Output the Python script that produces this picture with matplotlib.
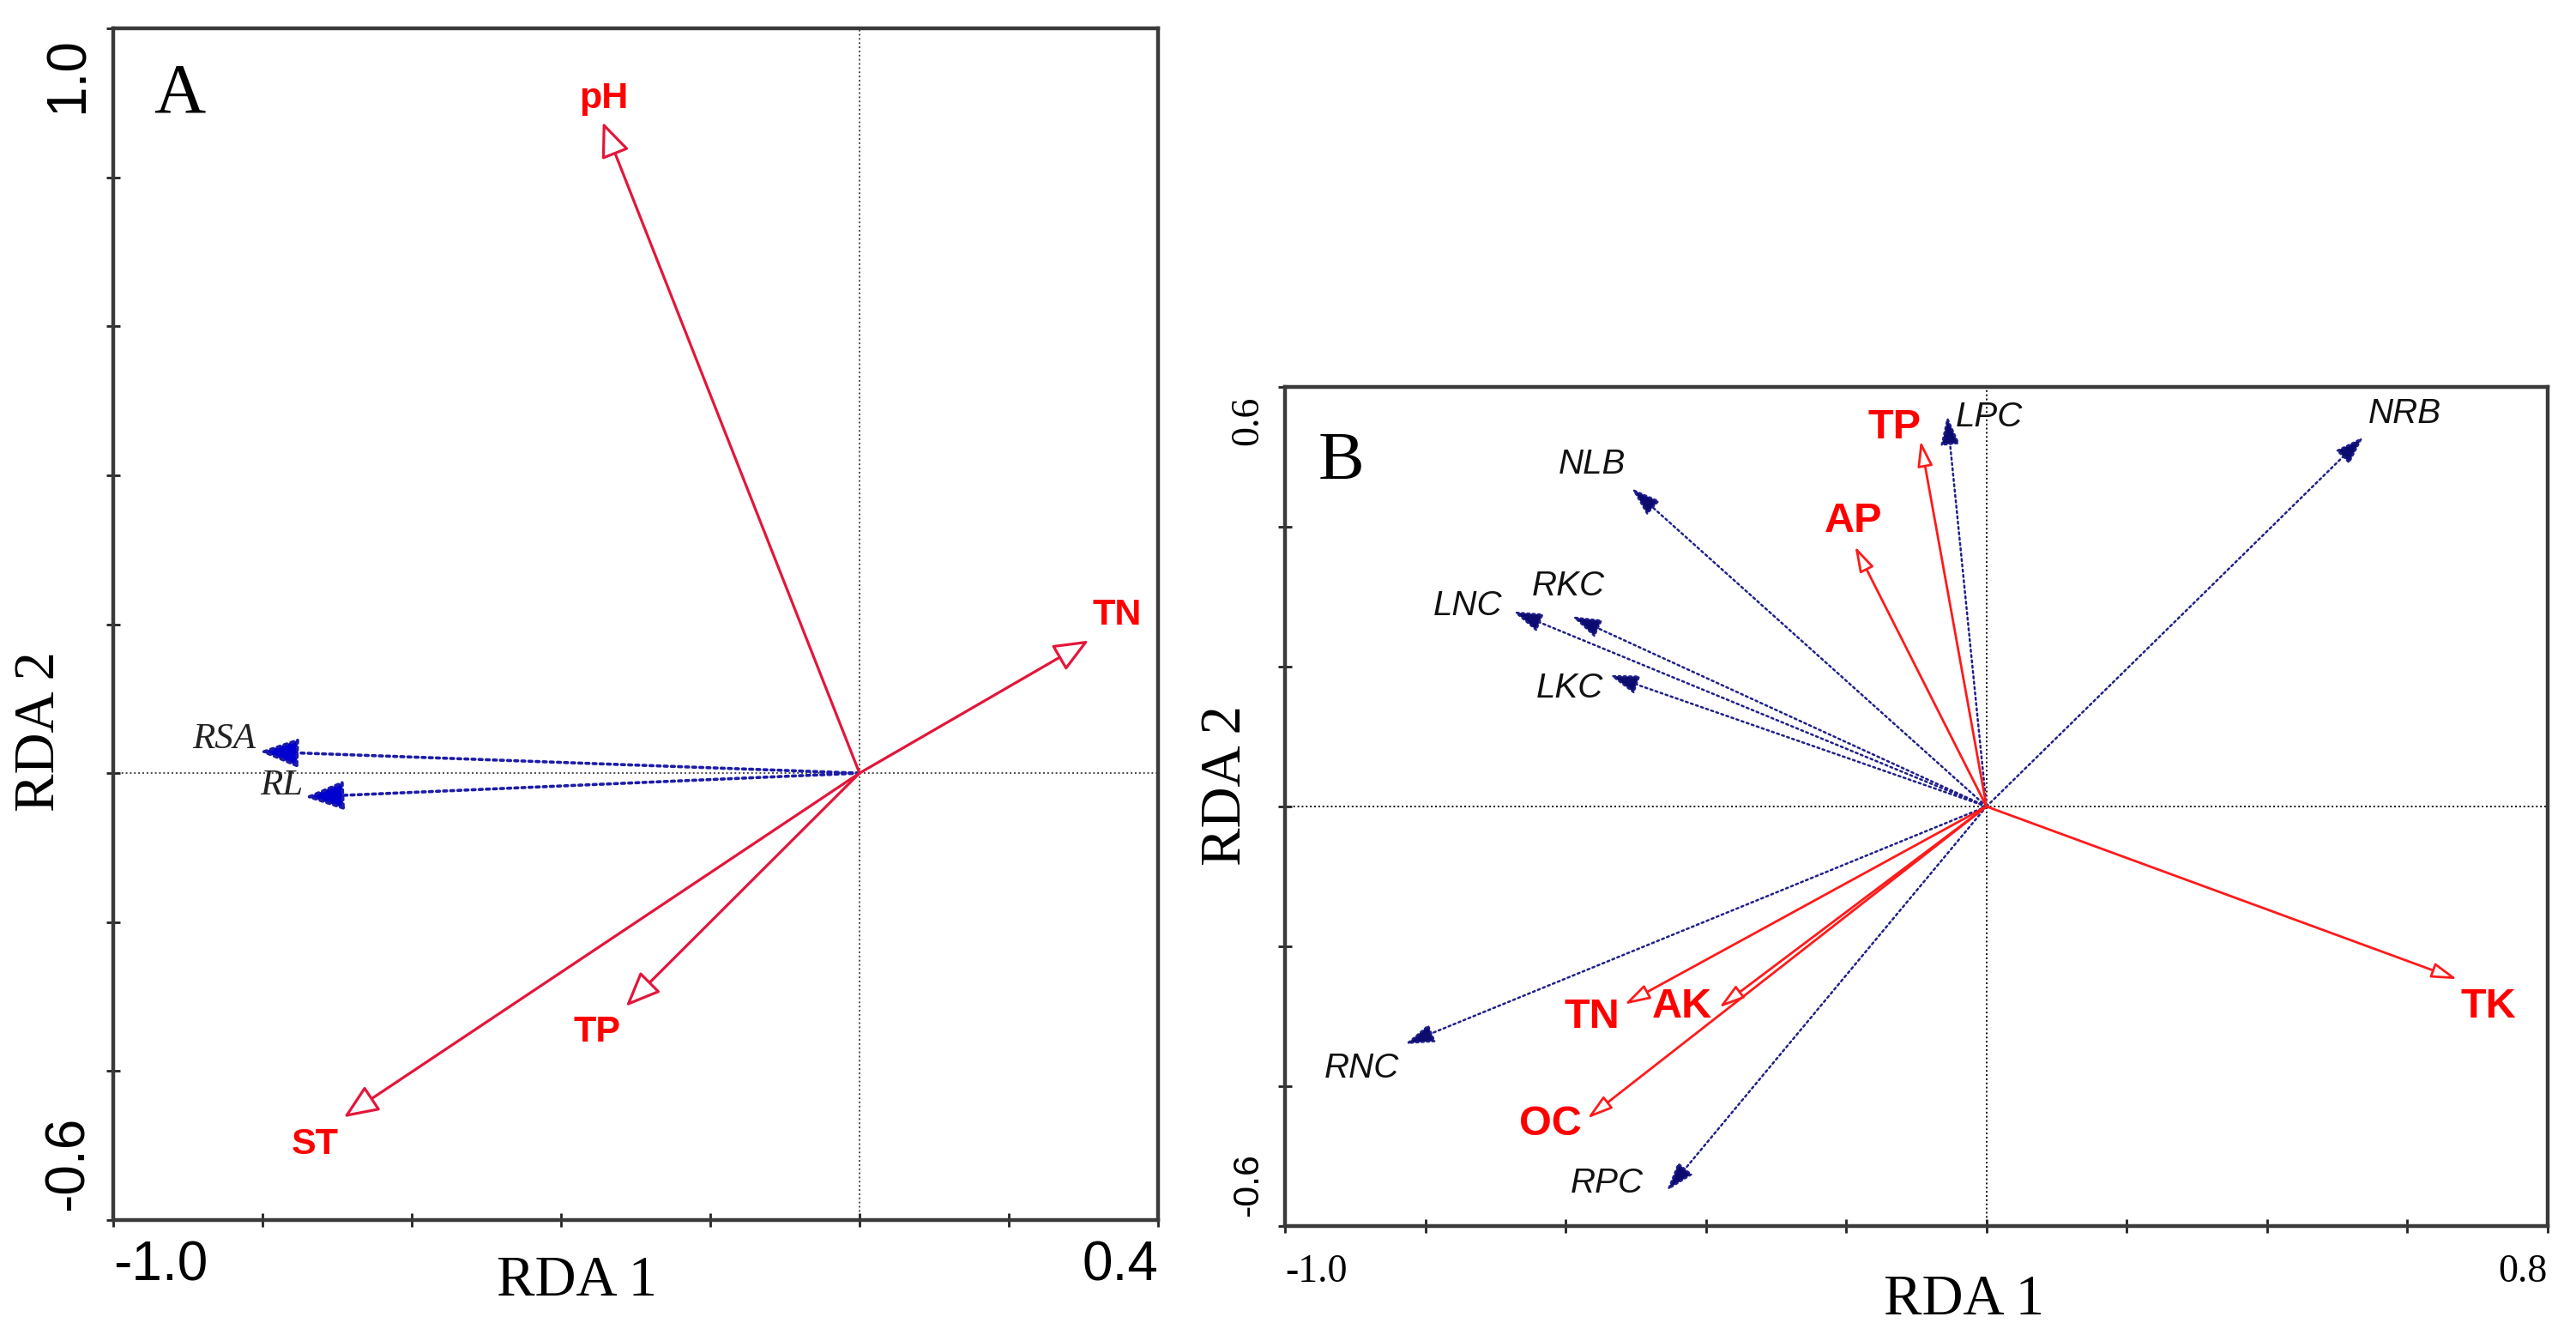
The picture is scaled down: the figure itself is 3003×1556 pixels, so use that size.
import numpy as np
import matplotlib
matplotlib.use("Agg")
import matplotlib.pyplot as plt
from matplotlib.patches import FancyArrowPatch
from matplotlib.patches import ArrowStyle

# ---------------- data ----------------
# Panel A: environmental factors (red) and root traits (blue)
A_env_names = ["pH", "TN", "TP", "ST"]
A_env_x = [-0.344, 0.307, -0.313, -0.691]
A_env_y = [0.874, 0.178, -0.313, -0.462]
A_sp_names = ["RSA", "RL"]
A_sp_x = [-0.804, -0.743]
A_sp_y = [0.029, -0.032]

# Panel B
B_env_names = ["TP", "AP", "TK", "TN", "AK", "OC"]
B_env_x = [-0.094, -0.1875, 0.671, -0.516, -0.381, -0.569]
B_env_y = [0.523, 0.372, -0.247, -0.283, -0.2875, -0.446]
B_sp_names = ["LPC", "NRB", "NLB", "LNC", "RKC", "LKC", "RNC", "RPC"]
B_sp_x = [-0.056, 0.5375, -0.506, -0.675, -0.591, -0.5375, -0.829, -0.456]
B_sp_y = [0.559, 0.529, 0.455, 0.279, 0.272, 0.188, -0.340, -0.550]

A_xlim = (-1.0, 0.4)
A_ylim = (-0.6, 1.0)
B_xlim = (-1.0, 0.8)
B_ylim = (-0.6, 0.6)

# ---------------- layout (label offsets in pixels) ----------------
A_env_off = {"pH": (1, 27, "center"), "TN": (33, 30, "center"),
             "TP": (-34, -30, "center"), "ST": (-34, -32, "center")}
A_sp_off = {"RSA": (-4, 14, "right"), "RL": (-2, 13, "right")}
B_env_off = {"TP": (-30, 15, "center"), "AP": (-2, 29, "center"),
             "TK": (36, -32, "center"), "TN": (-38, -15, "center"),
             "AK": (-43, 1, "center"), "OC": (-43, -7, "center")}
B_sp_off = {"LPC": (10, -2, "left"), "NRB": (48, 27, "center"),
            "NLB": (-46, 28, "center"), "LNC": (-53, 7, "center"),
            "RKC": (-4, 35, "center"), "LKC": (-46, -15, "center"),
            "RNC": (-50, -28, "center"), "RPC": (-70, 9, "center")}

SANS = ["Liberation Sans", "DejaVu Sans"]
SERIF = ["Liberation Serif", "DejaVu Serif"]

W, H = 3003, 1556
fig = plt.figure(figsize=(W / 100, H / 100), dpi=100)

axA = fig.add_axes([132 / W, (H - 1422) / H, 1218 / W, 1389 / H])
axB = fig.add_axes([1498 / W, (H - 1429) / H, 1472 / W, 978 / H])


def style_axes(ax, xlim, ylim, xt, yt, zcol):
    ax.set_xlim(*xlim)
    ax.set_ylim(*ylim)
    ax.set_xticks(xt)
    ax.set_yticks(yt)
    ax.set_xticklabels([])
    ax.set_yticklabels([])
    ax.tick_params(direction="inout", length=11, width=2.0, color="#222222")
    for s in ax.spines.values():
        s.set_linewidth(3.2)
        s.set_color("#3a3a3a")
    ax.axhline(0, color=zcol, lw=1.4, ls=(0, (1, 1.5)), zorder=1)
    ax.axvline(0, color=zcol, lw=1.4, ls=(0, (1, 1.5)), zorder=1)


def arrow(ax, x, y, color, fc, lw, ls, ms, hw):
    p = FancyArrowPatch(posA=(0, 0), posB=(x, y),
                        arrowstyle=ArrowStyle("-|>", head_length=1.0, head_width=hw),
                        mutation_scale=ms, lw=lw, ls=ls, ec=color, fc=fc,
                        shrinkA=0, shrinkB=0, zorder=3)
    ax.add_patch(p)


# ---------------- Panel A ----------------
style_axes(axA, A_xlim, A_ylim, np.arange(-1.0, 0.41, 0.2),
           np.arange(-0.6, 1.01, 0.2), "#4a4a4a")

for n, x, y in zip(A_sp_names, A_sp_x, A_sp_y):
    arrow(axA, x, y, "#1c1ca8", "#0000d0", 2.6, (0, (1, 1.3)), 28, 0.38)
    dx, dy, ha = A_sp_off[n]
    axA.annotate(n, xy=(x, y), xytext=(dx, dy), textcoords="offset pixels",
                 ha=ha, va="center", fontsize=31, style="italic",
                 family=SERIF, color="#222222")

for n, x, y in zip(A_env_names, A_env_x, A_env_y):
    arrow(axA, x, y, "#e3163a", "white", 2.3, "-", 25, 0.42)
    dx, dy, ha = A_env_off[n]
    axA.annotate(n, xy=(x, y), xytext=(dx, dy), textcoords="offset pixels",
                 ha=ha, va="center", fontsize=31, weight="bold",
                 family=SANS, color="#ff0000")

axA.text(0.039, 0.9295, "A", transform=axA.transAxes, fontsize=60,
         family=SERIF, ha="left", va="baseline")
axA.text(0.0, -0.0166, "-1.0", transform=axA.transAxes, fontsize=46,
         family=SANS, ha="left", va="top")
axA.text(1.0, -0.0166, "0.4", transform=axA.transAxes, fontsize=46,
         family=SANS, ha="right", va="top")
axA.text(-0.0427, 0.9928, "1.0", transform=axA.transAxes, fontsize=46,
         family=SANS, ha="center", va="top", rotation=90)
axA.text(-0.0427, 0.0079, "-0.6", transform=axA.transAxes, fontsize=46,
         family=SANS, ha="center", va="bottom", rotation=90)
axA.text(0.444, -0.0634, "RDA 1", transform=axA.transAxes, fontsize=48,
         family=SERIF, ha="center", va="baseline")
axA.text(-0.0698, 0.41, "RDA 2", transform=axA.transAxes, fontsize=48,
         family=SERIF, ha="center", va="center", rotation=90)

# ---------------- Panel B ----------------
style_axes(axB, B_xlim, B_ylim, np.arange(-1.0, 0.81, 0.2),
           np.arange(-0.6, 0.61, 0.2), "#111111")

for n, x, y in zip(B_sp_names, B_sp_x, B_sp_y):
    arrow(axB, x, y, "#20208a", "#0b0b70", 1.8, (0, (1, 1.5)), 21, 0.33)
    dx, dy, ha = B_sp_off[n]
    axB.annotate(n, xy=(x, y), xytext=(dx, dy), textcoords="offset pixels",
                 ha=ha, va="center", fontsize=29, style="italic",
                 family=SANS, color="#111111")

for n, x, y in zip(B_env_names, B_env_x, B_env_y):
    arrow(axB, x, y, "#ff1a1a", "white", 2.0, "-", 18, 0.3)
    dx, dy, ha = B_env_off[n]
    axB.annotate(n, xy=(x, y), xytext=(dx, dy), textcoords="offset pixels",
                 ha=ha, va="center", fontsize=35, weight="bold",
                 family=SANS, color="#ff0000")

axB.text(0.0265, 0.8896, "B", transform=axB.transAxes, fontsize=58,
         family=SERIF, ha="left", va="baseline")
axB.text(0.0, -0.0337, "-1.0", transform=axB.transAxes, fontsize=33,
         family=SERIF, ha="left", va="top")
axB.text(1.0, -0.0337, "0.8", transform=axB.transAxes, fontsize=33,
         family=SERIF, ha="right", va="top")
axB.text(-0.0292, 0.9888, "0.6", transform=axB.transAxes, fontsize=33,
         family=SERIF, ha="center", va="top", rotation=90)
axB.text(-0.0292, 0.0112, "-0.6", transform=axB.transAxes, fontsize=31,
         family=SANS, ha="center", va="bottom", rotation=90)
axB.text(0.538, -0.105, "RDA 1", transform=axB.transAxes, fontsize=48,
         family=SERIF, ha="center", va="baseline")
axB.text(-0.0462, 0.5245, "RDA 2", transform=axB.transAxes, fontsize=48,
         family=SERIF, ha="center", va="center", rotation=90)

fig.savefig("out.png", dpi=100)
